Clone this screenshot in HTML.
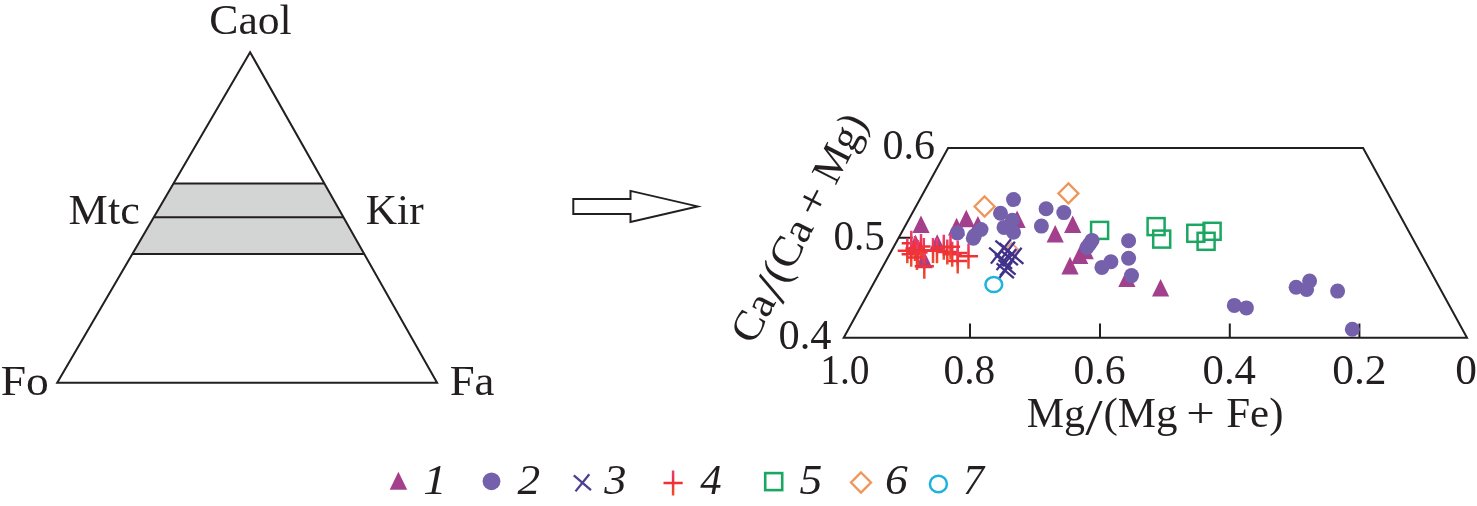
<!DOCTYPE html>
<html><head><meta charset="utf-8"><title>figure</title>
<style>
html,body{margin:0;padding:0;background:#fff;}
body{width:1477px;height:506px;overflow:hidden;}
svg{display:block;will-change:transform;}
text{font-family:"Liberation Serif",serif;font-size:42px;fill:#231f20;}
.it{font-style:italic;}
</style></head><body>
<svg width="1477" height="506" viewBox="0 0 1477 506">
<defs>
<linearGradient id="tg" x1="0" y1="0" x2="0" y2="1" gradientUnits="objectBoundingBox">
<stop offset="0" stop-color="#a93b86"/><stop offset="1" stop-color="#a0428f"/></linearGradient>
<linearGradient id="pg" x1="0" y1="0" x2="0" y2="1" gradientUnits="objectBoundingBox"><stop offset="0" stop-color="#ea3f78"/><stop offset="0.45" stop-color="#ee3038"/><stop offset="1" stop-color="#f04e2c"/></linearGradient>
</defs>
<rect width="1477" height="506" fill="#fff"/>
<!-- ternary -->
<g stroke="#231f20" stroke-width="2" fill="none" stroke-linejoin="miter">
<polygon points="173.5,183.5 324.4,183.5 364.2,253.9 132.4,253.9" fill="#d3d5d4" stroke="none"/>
<polygon points="250.1,52.2 437.1,382.8 57.2,382.8"/>
<path d="M173.5 183.5H324.4M153.8 217.2H343.4M132.4 253.9H364.2"/>
</g>
<!-- arrow -->
<polygon points="573.3,199 630.5,199 630.5,190.9 697.6,206.4 630.5,221.9 630.5,214 573.3,214" fill="#fff" stroke="#231f20" stroke-width="2" stroke-miterlimit="10"/>
<!-- plot frame -->
<g stroke="#231f20" stroke-width="2" fill="none">
<polygon points="843.7,337.8 948.1,147.9 1363.1,147.9 1467,337.8"/>
<path d="M970 337V323.5M1100 337V323.5M1229.8 337V323.5M1359.4 337V323.5M899 237.8H912.6"/>
</g>
<rect x="1091.1" y="221.9" width="17" height="17" stroke="#1ba662" stroke-width="2.5" fill="none"/>
<rect x="1147.6" y="218.1" width="17" height="17" stroke="#1ba662" stroke-width="2.5" fill="none"/>
<rect x="1153.2" y="230.6" width="17" height="17" stroke="#1ba662" stroke-width="2.5" fill="none"/>
<rect x="1187.3" y="224.8" width="17" height="17" stroke="#1ba662" stroke-width="2.5" fill="none"/>
<rect x="1203.6" y="222.8" width="17" height="17" stroke="#1ba662" stroke-width="2.5" fill="none"/>
<rect x="1197.6" y="232.8" width="17" height="17" stroke="#1ba662" stroke-width="2.5" fill="none"/>
<polygon points="984.6,196.5 994.6,206.5 984.6,216.5 974.6,206.5" stroke="#f0955a" stroke-width="2.3" fill="none"/>
<polygon points="1068.4,183.4 1078.4,193.4 1068.4,203.4 1058.4,193.4" stroke="#f0955a" stroke-width="2.3" fill="none"/>
<polygon points="1011.5,243.0 1018.0,249.5 1011.5,256.0 1005.0,249.5" stroke="#e9a08c" stroke-width="2.0" fill="none"/>
<polygon points="921.0,215.5 929.6,233.1 912.4,233.1" fill="url(#tg)"/>
<polygon points="937.2,234.3 945.8,251.9 928.6,251.9" fill="url(#tg)"/>
<polygon points="915.5,234.8 924.1,252.4 906.9,252.4" fill="url(#tg)"/>
<polygon points="924.0,250.6 932.6,268.2 915.4,268.2" fill="url(#tg)"/>
<polygon points="956.6,217.8 965.2,235.4 948.0,235.4" fill="url(#tg)"/>
<polygon points="966.3,209.7 974.9,227.3 957.7,227.3" fill="url(#tg)"/>
<polygon points="977.9,216.0 986.5,233.6 969.3,233.6" fill="url(#tg)"/>
<polygon points="1017.1,210.4 1025.7,228.0 1008.5,228.0" fill="url(#tg)"/>
<polygon points="1072.7,215.4 1081.3,233.0 1064.1,233.0" fill="url(#tg)"/>
<polygon points="1055.2,225.0 1063.8,242.6 1046.6,242.6" fill="url(#tg)"/>
<polygon points="1085.2,241.6 1093.8,259.2 1076.6,259.2" fill="url(#tg)"/>
<polygon points="1079.7,246.4 1088.3,264.0 1071.1,264.0" fill="url(#tg)"/>
<polygon points="1070.0,256.8 1078.6,274.4 1061.4,274.4" fill="url(#tg)"/>
<polygon points="1126.9,269.4 1135.5,287.0 1118.3,287.0" fill="url(#tg)"/>
<polygon points="1160.6,279.0 1169.2,296.6 1152.0,296.6" fill="url(#tg)"/>
<circle cx="957.3" cy="232.9" r="7.5" fill="#7561ab"/>
<circle cx="973.3" cy="238.3" r="7.5" fill="#7561ab"/>
<circle cx="981.0" cy="229.5" r="7.5" fill="#7561ab"/>
<circle cx="974.4" cy="235.7" r="7.5" fill="#7561ab"/>
<circle cx="1013.5" cy="199.6" r="7.5" fill="#7561ab"/>
<circle cx="1000.5" cy="213.2" r="7.5" fill="#7561ab"/>
<circle cx="1004.0" cy="227.4" r="7.5" fill="#7561ab"/>
<circle cx="1012.3" cy="220.3" r="7.5" fill="#7561ab"/>
<circle cx="1013.5" cy="232.2" r="7.5" fill="#7561ab"/>
<circle cx="1046.1" cy="208.7" r="7.5" fill="#7561ab"/>
<circle cx="1063.8" cy="212.6" r="7.5" fill="#7561ab"/>
<circle cx="1041.4" cy="226.1" r="7.5" fill="#7561ab"/>
<circle cx="1092.0" cy="240.4" r="7.5" fill="#7561ab"/>
<circle cx="1087.0" cy="247.5" r="7.5" fill="#7561ab"/>
<circle cx="1089.5" cy="244.0" r="7.5" fill="#7561ab"/>
<circle cx="1110.9" cy="261.7" r="7.5" fill="#7561ab"/>
<circle cx="1101.9" cy="267.4" r="7.5" fill="#7561ab"/>
<circle cx="1128.6" cy="240.8" r="7.5" fill="#7561ab"/>
<circle cx="1128.6" cy="258.2" r="7.5" fill="#7561ab"/>
<circle cx="1131.5" cy="275.6" r="7.5" fill="#7561ab"/>
<circle cx="1234.3" cy="305.4" r="7.5" fill="#7561ab"/>
<circle cx="1246.4" cy="307.9" r="7.5" fill="#7561ab"/>
<circle cx="1296.1" cy="287.2" r="7.5" fill="#7561ab"/>
<circle cx="1306.6" cy="289.4" r="7.5" fill="#7561ab"/>
<circle cx="1309.6" cy="281.0" r="7.5" fill="#7561ab"/>
<circle cx="1337.6" cy="291.1" r="7.5" fill="#7561ab"/>
<circle cx="1352.3" cy="329.2" r="7.5" fill="#7561ab"/>
<path d="M897.7 250.8H916.9M907.3 238.3V263.3" stroke="url(#pg)" stroke-width="2.5" fill="none"/>
<path d="M901.7 243.3H920.9M911.3 230.8V255.8" stroke="url(#pg)" stroke-width="2.5" fill="none"/>
<path d="M901.6 254.3H920.8M911.2 241.8V266.8" stroke="url(#pg)" stroke-width="2.5" fill="none"/>
<path d="M905.4 248.5H924.6M915.0 236.0V261.0" stroke="url(#pg)" stroke-width="2.5" fill="none"/>
<path d="M908.4 252.5H927.6M918.0 240.0V265.0" stroke="url(#pg)" stroke-width="2.5" fill="none"/>
<path d="M911.4 246.5H930.6M921.0 234.0V259.0" stroke="url(#pg)" stroke-width="2.5" fill="none"/>
<path d="M907.4 257.5H926.6M917.0 245.0V270.0" stroke="url(#pg)" stroke-width="2.5" fill="none"/>
<path d="M914.2 250.4H933.4M923.8 237.9V262.9" stroke="url(#pg)" stroke-width="2.5" fill="none"/>
<path d="M914.7 266.2H933.9M924.3 253.7V278.7" stroke="url(#pg)" stroke-width="2.5" fill="none"/>
<path d="M923.4 250.5H942.6M933.0 238.0V263.0" stroke="url(#pg)" stroke-width="2.5" fill="none"/>
<path d="M927.4 250.8H946.6M937.0 238.3V263.3" stroke="url(#pg)" stroke-width="2.5" fill="none"/>
<path d="M934.2 247.3H953.4M943.8 234.8V259.8" stroke="url(#pg)" stroke-width="2.5" fill="none"/>
<path d="M937.7 252.0H956.9M947.3 239.5V264.5" stroke="url(#pg)" stroke-width="2.5" fill="none"/>
<path d="M942.6 254.2H961.8M952.2 241.7V266.7" stroke="url(#pg)" stroke-width="2.5" fill="none"/>
<path d="M948.1 253.0H967.3M957.7 240.5V265.5" stroke="url(#pg)" stroke-width="2.5" fill="none"/>
<path d="M948.1 261.0H967.3M957.7 248.5V273.5" stroke="url(#pg)" stroke-width="2.5" fill="none"/>
<path d="M940.9 246.8H960.1M950.5 234.3V259.3" stroke="url(#pg)" stroke-width="2.5" fill="none"/>
<path d="M958.9 256.3H978.1M968.5 243.8V268.8" stroke="url(#pg)" stroke-width="2.5" fill="none"/>
<path d="M995.4 240.7L1012.6 255.3M997.1 256.6L1010.9 239.3" stroke="#40328a" stroke-width="2.3" fill="none"/>
<path d="M989.1 247.7L1006.4 262.4M990.9 263.6L1004.7 246.3" stroke="#40328a" stroke-width="2.3" fill="none"/>
<path d="M1006.1 249.2L1023.4 263.9M1007.8 265.1L1021.6 247.8" stroke="#40328a" stroke-width="2.3" fill="none"/>
<path d="M1000.6 250.3L1017.9 265.1M1002.4 266.3L1016.2 249.0" stroke="#40328a" stroke-width="2.3" fill="none"/>
<path d="M998.4 259.8L1015.6 274.6M1000.1 275.8L1013.9 258.6" stroke="#40328a" stroke-width="2.3" fill="none"/>
<path d="M996.6 263.3L1013.9 278.1M998.3 279.3L1012.1 262.1" stroke="#40328a" stroke-width="2.3" fill="none"/>
<path d="M999.4 243.2L1016.6 257.9M1001.1 259.1L1014.9 241.8" stroke="#40328a" stroke-width="2.3" fill="none"/>
<path d="M994.9 254.2L1012.1 268.9M996.6 270.1L1010.4 252.8" stroke="#40328a" stroke-width="2.3" fill="none"/>
<ellipse cx="993.8" cy="284.6" rx="8.4" ry="7.5" stroke="#1fb2dc" stroke-width="2.5" fill="none"/>
<text transform="translate(209.28,33.80) scale(1.0397,1.0)">Caol</text>
<text transform="translate(68.58,223.70) scale(1.0523,1.0)">Mtc</text>
<text transform="translate(365.71,223.60) scale(1.0341,1.0)">Kir</text>
<text transform="translate(0.64,394.50) scale(1.0843,1.0)">Fo</text>
<text transform="translate(449.67,394.50) scale(1.0658,1.0)">Fa</text>
<text transform="translate(882.60,158.80) scale(1.0010,1.015)">0.6</text>
<text transform="translate(833.53,250.10) scale(0.9787,1.015)">0.5</text>
<text transform="translate(778.59,349.10) scale(1.0090,1.015)">0.4</text>
<text transform="translate(820.18,384.20) scale(0.9397,1.015)">1.0</text>
<text transform="translate(943.62,384.20) scale(0.9838,1.015)">0.8</text>
<text transform="translate(1073.51,384.20) scale(0.9930,1.015)">0.6</text>
<text transform="translate(1202.57,384.20) scale(1.0169,1.015)">0.4</text>
<text transform="translate(1332.15,384.20) scale(1.0359,1.015)">0.2</text>
<text transform="translate(1455.25,384.20) scale(1.0333,1.015)">0</text>
<text transform="translate(1026.75,426.90) scale(0.9991,1.0)">Mg</text>
<text transform="translate(1085.30,433.80) scale(1.4870,1.23)">/</text>
<text transform="translate(1103.41,426.90) scale(1.0237,1.0)">(Mg</text>
<text transform="translate(1186.29,426.90) scale(1.2051,1.0)">+</text>
<text transform="translate(1226.22,426.90) scale(1.0226,1.0)">Fe)</text>
<text class="it" transform="translate(423.33,494.00) scale(1.1133,1.0)">1</text>
<text class="it" transform="translate(517.60,494.00) scale(1.0800,1.0)">2</text>
<text class="it" transform="translate(604.20,494.00) scale(1.0564,1.0)">3</text>
<text class="it" transform="translate(700.35,494.00) scale(1.0177,1.0)">4</text>
<text class="it" transform="translate(799.39,494.00) scale(1.0842,1.0)">5</text>
<text class="it" transform="translate(885.00,494.00) scale(1.0842,1.0)">6</text>
<text class="it" transform="translate(963.00,494.00) scale(1.0000,1.0)">7</text>
<g transform="translate(754.7,344.1) rotate(-62.9)">
<text transform="translate(-1.86,0.00) scale(1.0621,1.0)">Ca</text>
<text transform="translate(48.10,6.90) scale(1.4870,1.23)">/</text>
<text transform="translate(66.12,0.00) scale(1.0747,1.0)">(Ca</text>
<text transform="translate(139.59,0.00) scale(1.2051,1.0)">+</text>
<text transform="translate(177.46,0.00) scale(0.9906,1.0)">Mg)</text>
</g>
<!-- legend -->
<polygon points="398.4,471.7 407.2,489.8 389.7,489.8" fill="url(#tg)"/>
<circle cx="491.5" cy="481.3" r="8.9" fill="#7561ab"/>
<path d="M573.8 475.4L591.0 490.2M575.5 491.4L589.3 474.2" stroke="#4d3f92" stroke-width="2.3" fill="none"/>
<path d="M663.5 483.0H682.7M673.1 470.5V495.5" stroke="url(#pg)" stroke-width="2.5" fill="none"/>
<rect x="765.2" y="473.1" width="17" height="17" stroke="#1ba662" stroke-width="2.6" fill="none"/>
<polygon points="861.0,472.5 871.0,482.5 861.0,492.5 851.0,482.5" stroke="#f0955a" stroke-width="2.3" fill="none"/>
<ellipse cx="938.4" cy="484.0" rx="8.5" ry="8.3" stroke="#1fb2dc" stroke-width="2.5" fill="none"/>
</svg>
</body></html>
